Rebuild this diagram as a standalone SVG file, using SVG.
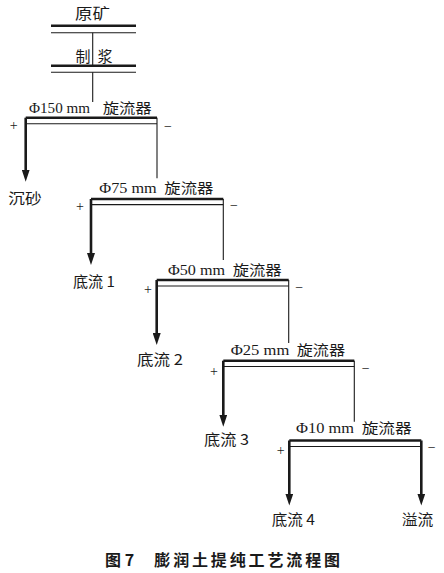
<svg xmlns="http://www.w3.org/2000/svg" width="444" height="573" viewBox="0 0 444 573">
<style>
.bg{fill:#fff}
.thick{stroke:#1a1a1a;stroke-width:2.6;fill:none}
.thin{stroke:#1a1a1a;stroke-width:1.1;fill:none}
.lat{font-family:"Liberation Serif","Noto Sans CJK SC",serif;font-size:15px;fill:#1a1a1a}
.cjk{font-family:"Noto Sans CJK SC","Liberation Serif",sans-serif;font-size:14px;fill:#1a1a1a}
.lbl{font-family:"Noto Sans CJK SC","Liberation Serif",sans-serif;font-size:15px;fill:#1a1a1a}
.sgn{font-family:"Liberation Serif",serif;font-size:14px;fill:#1a1a1a;text-anchor:middle}
.cap{font-family:"Noto Sans CJK SC","Liberation Sans",sans-serif;font-size:16px;font-weight:bold;fill:#1a1a1a}
</style>
<defs>
<marker id="arr" markerUnits="userSpaceOnUse" markerWidth="12" markerHeight="8" viewBox="0 0 12 8" refX="6" refY="4" orient="auto">
<path d="M0,0 L12,4 L0,8 z" fill="#1a1a1a"/>
</marker>
</defs>
<rect class="bg" x="0" y="0" width="444" height="573"/>

<g id="ore">
<text class="cjk" x="75" y="19" textLength="35" lengthAdjust="spacingAndGlyphs" style="font-size:15px">原矿</text>
<line class="thick" x1="51" y1="25.7" x2="136" y2="25.7"/>
<line class="thin" x1="51" y1="32.7" x2="136" y2="32.7"/>
</g>

<g id="pulping">
<text class="cjk" x="75.5" y="62" style="font-size:15px">制</text>
<text class="cjk" x="97.5" y="62" style="font-size:15px">浆</text>
<line class="thick" x1="51" y1="65.7" x2="136" y2="65.7"/>
<line class="thin" x1="51" y1="72.3" x2="136" y2="72.3"/>
</g>

<g id="cyclone150">
<text class="lat" x="29" y="113.3" textLength="61" lengthAdjust="spacingAndGlyphs">Φ150 mm</text>
<text class="cjk" x="102.7" y="113" textLength="49" lengthAdjust="spacingAndGlyphs">旋流器</text>
<line class="thick" x1="25.7" y1="117.7" x2="157" y2="117.7"/>
<line class="thin" x1="25.7" y1="123.7" x2="157" y2="123.7"/>
<text class="sgn" x="13.7" y="129.5">+</text>
<text class="sgn" x="168" y="130.5">−</text>
</g>

<g id="cyclone75">
<text class="lat" x="99.3" y="193.3" textLength="57.4" lengthAdjust="spacingAndGlyphs">Φ75 mm</text>
<text class="cjk" x="164.3" y="193" textLength="49" lengthAdjust="spacingAndGlyphs">旋流器</text>
<line class="thick" x1="91" y1="199" x2="223.3" y2="199"/>
<line class="thin" x1="91" y1="204.6" x2="223.3" y2="204.6"/>
<text class="sgn" x="80" y="210.5">+</text>
<text class="sgn" x="234" y="209.5">−</text>
</g>

<g id="cyclone50">
<text class="lat" x="168" y="275" textLength="57" lengthAdjust="spacingAndGlyphs">Φ50 mm</text>
<text class="cjk" x="232.7" y="274.7" textLength="49" lengthAdjust="spacingAndGlyphs">旋流器</text>
<line class="thick" x1="156.7" y1="280" x2="288.7" y2="280"/>
<line class="thin" x1="156.7" y1="286" x2="288.7" y2="286"/>
<text class="sgn" x="148" y="293.5">+</text>
<text class="sgn" x="299.3" y="291.5">−</text>
</g>

<g id="cyclone25">
<text class="lat" x="230.7" y="355" textLength="58.6" lengthAdjust="spacingAndGlyphs">Φ25 mm</text>
<text class="cjk" x="296.7" y="354.7" textLength="48.3" lengthAdjust="spacingAndGlyphs">旋流器</text>
<line class="thick" x1="223.3" y1="360.7" x2="354.3" y2="360.7"/>
<line class="thin" x1="223.3" y1="366.5" x2="354.3" y2="366.5"/>
<text class="sgn" x="214" y="376">+</text>
<text class="sgn" x="365.7" y="372.5">−</text>
</g>

<g id="cyclone10">
<text class="lat" x="296" y="433.3" textLength="58" lengthAdjust="spacingAndGlyphs">Φ10 mm</text>
<text class="cjk" x="361.7" y="433" textLength="50" lengthAdjust="spacingAndGlyphs">旋流器</text>
<line class="thick" x1="289.3" y1="440.5" x2="421.3" y2="440.5"/>
<line class="thin" x1="289.3" y1="446.5" x2="421.3" y2="446.5"/>
<text class="sgn" x="280.7" y="454.5">+</text>
<text class="sgn" x="431.7" y="451.5">−</text>
</g>

<g id="sand"><text class="lbl" x="8.3" y="204" textLength="33.4" lengthAdjust="spacingAndGlyphs">沉砂</text></g>
<g id="underflow1"><text class="lbl" x="73" y="286.7" textLength="42" lengthAdjust="spacingAndGlyphs">底流 1</text></g>
<g id="underflow2"><text class="lbl" x="137" y="365" textLength="46" lengthAdjust="spacingAndGlyphs">底流 2</text></g>
<g id="underflow3"><text class="lbl" x="204" y="445" textLength="45" lengthAdjust="spacingAndGlyphs">底流 3</text></g>
<g id="underflow4"><text class="lbl" x="271.7" y="525" textLength="43.3" lengthAdjust="spacingAndGlyphs">底流 4</text></g>
<g id="overflow"><text class="lbl" x="401.7" y="525" textLength="31.6" lengthAdjust="spacingAndGlyphs">溢流</text></g>

<g id="connectors">
<line class="thin" x1="92.7" y1="32.7" x2="92.7" y2="65.7"/>
<line class="thin" x1="92.7" y1="72.3" x2="92.7" y2="102"/>
<line class="thick" x1="25.7" y1="117.7" x2="25.7" y2="175.7" marker-end="url(#arr)"/>
<line class="thin" x1="157" y1="117.7" x2="157" y2="178.3"/>
<line class="thick" x1="91" y1="199" x2="91" y2="259" marker-end="url(#arr)"/>
<line class="thin" x1="223.3" y1="199" x2="223.3" y2="260"/>
<line class="thick" x1="156.7" y1="280" x2="156.7" y2="339" marker-end="url(#arr)"/>
<line class="thin" x1="288.7" y1="280" x2="288.7" y2="343"/>
<line class="thick" x1="223.3" y1="360.7" x2="223.3" y2="420.7" marker-end="url(#arr)"/>
<line class="thin" x1="354.3" y1="360.7" x2="354.3" y2="421.7"/>
<line class="thick" x1="289.3" y1="440.5" x2="289.3" y2="499.5" marker-end="url(#arr)"/>
<line class="thick" x1="421.3" y1="440.5" x2="421.3" y2="499.5" marker-end="url(#arr)"/>
</g>

<g id="caption">
<text class="cap" x="105" y="565.5">图 7</text>
<text class="cap" x="154.3" y="565.5" textLength="185.7" lengthAdjust="spacing">膨润土提纯工艺流程图</text>
</g>
</svg>
